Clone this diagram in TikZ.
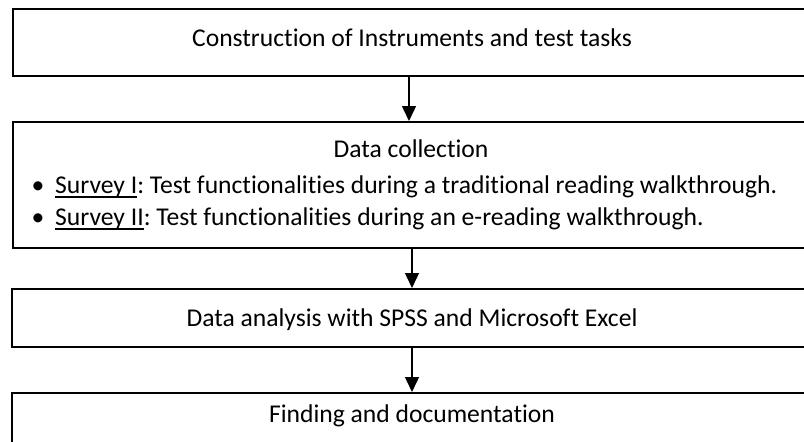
\documentclass[tikz,border=0pt]{standalone}
\usepackage{fontspec}
\setmainfont{Carlito}[Ligatures=NoCommon]
\usetikzlibrary{arrows.meta}
\frenchspacing
% underline drawn as a rule below the baseline
\newcommand\surveyul[1]{\setbox0\hbox{#1}\rlap{\vrule height -3pt depth 4.6pt width \wd0}\box0}
\begin{document}
\begin{tikzpicture}[x=1pt,y=-1pt,
  stage/.style={draw, line width=1.6pt, rectangle, anchor=north west, inner sep=0pt},
  label/.style={font=\fontsize{25.6}{30}\selectfont, inner sep=0pt, anchor=base},
  flow/.style={-{Triangle[width=14pt,length=15pt]}, line width=1.4pt}]
\useasboundingbox (0,0) rectangle (804,442);
% stage boxes (they run past the right edge)
\node[stage, minimum width=800pt, minimum height=67pt]  (b1) at (12,8)   {};
\node[stage, minimum width=800pt, minimum height=126pt] (b2) at (12,121) {};
\node[stage, minimum width=800pt, minimum height=58pt]  (b3) at (11,288) {};
\node[stage, minimum width=800pt, minimum height=70pt]  (b4) at (11,392) {};
% box texts
\node[label] (t1) at (412,46) {Construction of Instruments and test tasks};
\node[label] (t2) at (411,157) {Data collection};
\node[label] (p1) at (38,193) {•};
\node[label, anchor=base west] (s1) at (55,193) {\surveyul{Survey I}: Test functionalities during a traditional reading walkthrough.};
\node[label] (p2) at (38,225) {•};
\node[label, anchor=base west] (s2) at (55,225) {\surveyul{Survey II}: Test functionalities during an e-reading walkthrough.};
\node[label] (t3) at (412,326) {Data analysis with SPSS and Microsoft Excel};
\node[label] (t4) at (412,422) {Finding and documentation};
% connectors
\coordinate (c1) at (409,0);
\coordinate (c2) at (412,0);
\draw[flow] (c1 |- b1.south) -- (c1 |- b2.north);
\draw[flow] (c2 |- b2.south) -- (c2 |- b3.north);
\draw[flow] (c2 |- b3.south) -- (c2 |- b4.north);
\end{tikzpicture}
\end{document}
